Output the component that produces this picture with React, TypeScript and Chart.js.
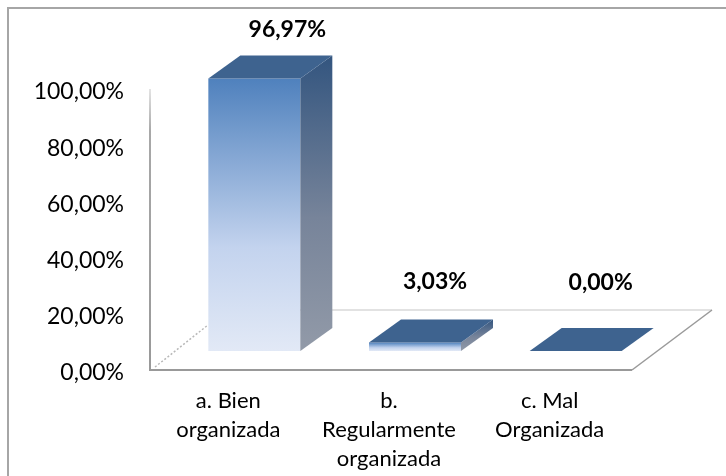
import React, { useEffect, useRef } from "react";
import { Chart, registerables } from "chart.js";

Chart.register(...registerables);

const categories = [["a. Bien", "organizada"], ["b.", "Regularmente", "organizada"], ["c. Mal", "Organizada"]];
const values = [96.97, 3.03, 0];
const valueLabels = ["96,97%", "3,03%", "0,00%"];
const tickValues = [0, 20, 40, 60, 80, 100];

const FONT = "Lato, Carlito, sans-serif";
const SHIFT_X = 24;
const SHIFT_Y = -19;
const DEPTH_X = 32;
const DEPTH_Y = -23;
const LABEL_POS = [
  { dx: 57, y: 30 },
  { dx: 44, y: 282 },
  { dx: 49, y: 283 },
];

const fmt = (v: number) => v.toFixed(2).replace(".", ",") + "%";

const box3d = {
  id: "box3d",
  beforeDraw(chart: any) {
    const { ctx, chartArea: a } = chart;
    const backY = a.bottom - 60;
    const rightX = a.right + 80;
    ctx.save();
    ctx.strokeStyle = "#e2e2e2";
    ctx.lineWidth = 2;
    ctx.beginPath();
    ctx.moveTo(a.left + 150, backY);
    ctx.lineTo(rightX, backY);
    ctx.stroke();
    ctx.strokeStyle = "#999999";
    ctx.lineWidth = 1.5;
    ctx.beginPath();
    ctx.moveTo(rightX, backY);
    ctx.lineTo(a.right, a.bottom);
    ctx.stroke();
    ctx.strokeStyle = "#b8b8b8";
    ctx.lineWidth = 1.5;
    ctx.setLineDash([2, 2]);
    ctx.beginPath();
    ctx.moveTo(a.left + 5, a.bottom - 3);
    ctx.lineTo(a.left + 58, a.bottom - 45);
    ctx.stroke();
    ctx.setLineDash([]);
    const g = ctx.createLinearGradient(0, a.top, 0, a.bottom);
    g.addColorStop(0, "#e4e4e4");
    g.addColorStop(0.15, "#a8a8a8");
    g.addColorStop(1, "#999999");
    ctx.strokeStyle = g;
    ctx.lineWidth = 2;
    ctx.beginPath();
    ctx.moveTo(a.left, a.top);
    ctx.lineTo(a.left, a.bottom + 1);
    ctx.stroke();
    ctx.strokeStyle = "#999999";
    ctx.beginPath();
    ctx.moveTo(a.left - 1, a.bottom);
    ctx.lineTo(a.right, a.bottom);
    ctx.stroke();
    ctx.restore();
  },
  beforeDatasetDraw(chart: any) {
    chart.ctx.save();
    chart.ctx.translate(SHIFT_X, SHIFT_Y);
  },
  afterDatasetDraw(chart: any, args: any) {
    const { ctx } = chart;
    args.meta.data.forEach((bar: any) => {
      const l = bar.x - bar.width / 2;
      const r = bar.x + bar.width / 2;
      const t = bar.y;
      const b = bar.base;
      if (b - t > 0.5) {
        const side = ctx.createLinearGradient(r, t + DEPTH_Y, r, b);
        side.addColorStop(0, "#33557f");
        side.addColorStop(0.55, "#77849a");
        side.addColorStop(1, "#929aa8");
        ctx.fillStyle = side;
        ctx.beginPath();
        ctx.moveTo(r, t);
        ctx.lineTo(r + DEPTH_X, t + DEPTH_Y);
        ctx.lineTo(r + DEPTH_X, b + DEPTH_Y);
        ctx.lineTo(r, b);
        ctx.closePath();
        ctx.fill();
      }
      ctx.fillStyle = "#3e638f";
      ctx.beginPath();
      ctx.moveTo(l, t);
      ctx.lineTo(l + DEPTH_X, t + DEPTH_Y);
      ctx.lineTo(r + DEPTH_X, t + DEPTH_Y);
      ctx.lineTo(r, t);
      ctx.closePath();
      ctx.fill();
    });
    ctx.restore();
  },
  afterDatasetsDraw(chart: any) {
    const { ctx, scales } = chart;
    ctx.save();
    ctx.fillStyle = "#000000";
    ctx.font = `bold 23px ${FONT}`;
    ctx.textAlign = "center";
    ctx.textBaseline = "middle";
    valueLabels.forEach((text, i) => {
      ctx.fillText(text, scales.x.getPixelForValue(i) + LABEL_POS[i].dx, LABEL_POS[i].y);
    });
    ctx.restore();
  },
};

export default function App() {
  const ref = useRef<HTMLCanvasElement>(null);
  useEffect(() => {
    const canvas = ref.current!;
    const chart = new Chart(canvas, {
      type: "bar",
      data: {
        labels: categories as any,
        datasets: [
          {
            data: values,
            categoryPercentage: 0.5726,
            barPercentage: 1,
            borderWidth: 0,
            backgroundColor: (c: any) => {
              const area = c.chart.chartArea;
              const yScale = c.chart.scales.y;
              if (!area || !yScale) return "#4f81bd";
              const top = yScale.getPixelForValue(c.raw);
              const bottom = yScale.getPixelForValue(0);
              const g = c.chart.ctx.createLinearGradient(0, top, 0, Math.max(bottom, top + 1));
              g.addColorStop(0, "#4f81bd");
              g.addColorStop(0.62, "#c3d3ee");
              g.addColorStop(1, "#e2e9f6");
              return g;
            },
          },
        ],
      },
      options: {
        animation: false,
        responsive: false,
        maintainAspectRatio: false,
        layout: { padding: { left: 0, top: 89, right: 94, bottom: 0 } },
        plugins: { legend: { display: false }, tooltip: { enabled: false } },
        scales: {
          x: {
            afterFit: (s: any) => {
              s.height = 106;
            },
            grid: { display: false },
            border: { display: false },
            ticks: {
              color: "#000000",
              font: { family: FONT, size: 22, lineHeight: 1.32 },
              padding: 8,
              labelOffset: -2,
              maxRotation: 0,
              autoSkip: false,
            },
          },
          y: {
            min: 0,
            max: 100,
            afterFit: (s: any) => {
              s.width = 150;
            },
            afterBuildTicks: (s: any) => {
              s.ticks = tickValues.map((value) => ({ value }));
            },
            grid: { display: false },
            border: { display: false },
            ticks: {
              color: "#000000",
              font: { family: FONT, size: 23 },
              padding: 18,
              labelOffset: 3,
              callback: (v: any) => fmt(Number(v)),
            },
          },
        },
      },
      plugins: [box3d],
    });
    return () => chart.destroy();
  }, []);

  return (
    <div style={{ position: "absolute", left: 0, top: 0, width: 726, height: 476, overflow: "hidden", background: "#fff" }}>
      <div style={{ position: "absolute", left: 7, top: 7, width: 2, height: 469, background: "#a6a6a6" }} />
      <div style={{ position: "absolute", left: 7, top: 7, width: 719, height: 2, background: "#a6a6a6" }} />
      <canvas ref={ref} width={726} height={476} style={{ position: "absolute", left: 0, top: 0, width: 726, height: 476 }} />
    </div>
  );
}
